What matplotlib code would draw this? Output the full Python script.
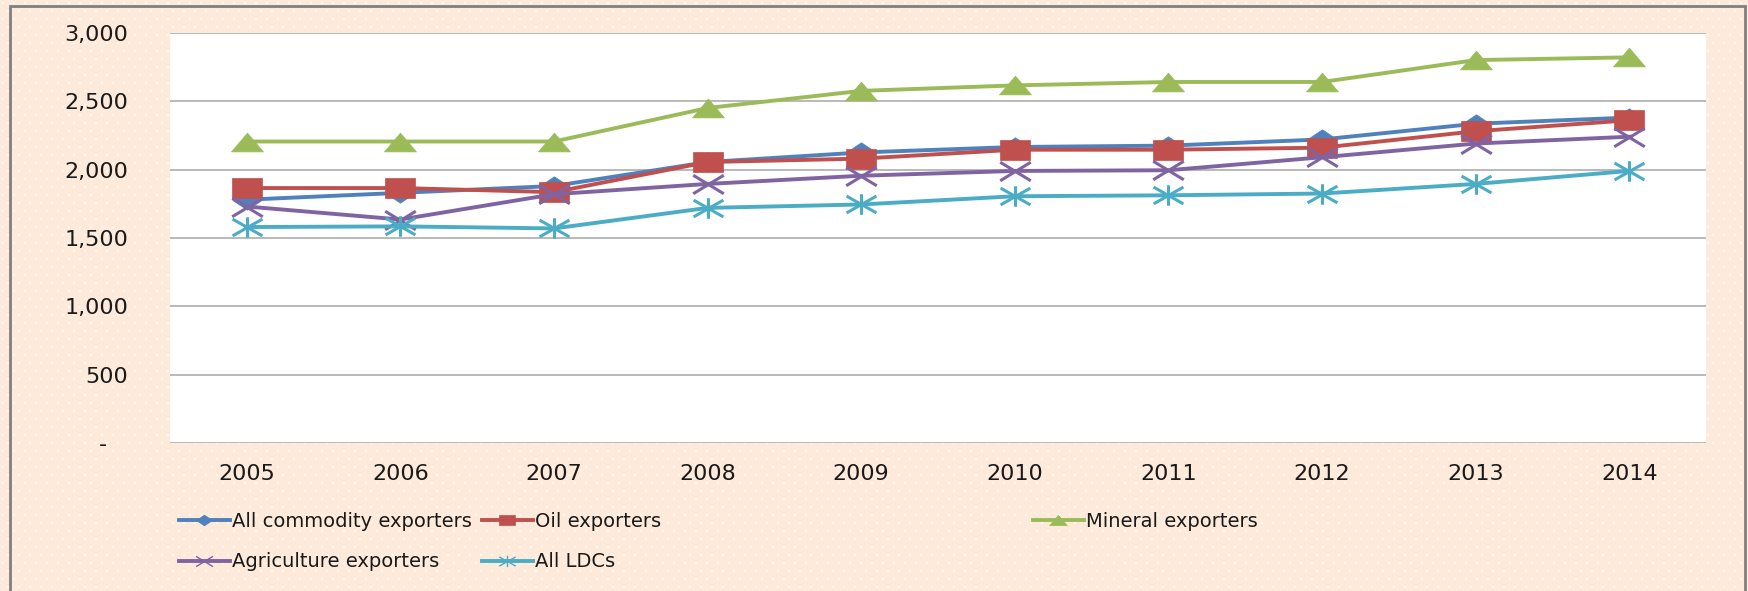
import numpy as np
import matplotlib
matplotlib.use('Agg')
import matplotlib.pyplot as plt
from matplotlib.path import Path
from matplotlib.patches import Rectangle
from matplotlib.lines import Line2D

years = ['2005', '2006', '2007', '2008', '2009', '2010', '2011', '2012', '2013', '2014']
all_commodity = [1780, 1830, 1880, 2055, 2125, 2165, 2175, 2220, 2335, 2380]
oil = [1865, 1865, 1835, 2055, 2080, 2145, 2145, 2160, 2280, 2360]
mineral = [2205, 2205, 2205, 2450, 2575, 2615, 2640, 2640, 2800, 2820]
agriculture = [1730, 1635, 1820, 1895, 1955, 1990, 1995, 2090, 2190, 2240]
all_ldcs = [1580, 1585, 1570, 1720, 1745, 1805, 1812, 1825, 1895, 1990]

W, H = 1748, 591
peach = np.array([253, 234, 218]) / 255.
dot = np.array([255, 246, 238]) / 255.

fig = plt.figure(figsize=(W / 100, H / 100), dpi=100)

# dotted peach background
bg = np.empty((H, W, 3))
bg[:] = peach
for k, j in enumerate(range(2, H, 8)):
    off = 2 + (5 if k % 2 else 0)
    bg[j:j + 2, off::11] = dot
    bg[j:j + 2, off + 1::11] = dot
fig.figimage(bg, 0, 0, zorder=-5)

# outer grey frame
fig.patches.append(Rectangle((10 / W, -0.05), (1745 - 10) / W, 1.05 - 6.5 / H,
                             transform=fig.transFigure, fill=False,
                             ec='#808080', lw=2.0, clip_on=False, zorder=-4))

# stretched marker shapes
diamond = [(0, 1), (1.5, 0), (0, -1), (-1.5, 0), (0, 1)]
square = [(-1.55, -1), (1.55, -1), (1.55, 1), (-1.55, 1), (-1.55, -1)]
triangle = [(-1.7, -1), (1.7, -1), (0, 1), (-1.7, -1)]
xmark = Path([(-1.65, -1), (1.65, 1), (-1.65, 1), (1.65, -1)],
             [Path.MOVETO, Path.LINETO, Path.MOVETO, Path.LINETO])
star = Path([(-1.6, -0.9), (1.6, 0.9), (-1.6, 0.9), (1.6, -0.9), (0, -1.1), (0, 1.1)],
            [Path.MOVETO, Path.LINETO, Path.MOVETO, Path.LINETO, Path.MOVETO, Path.LINETO])

series = [
    ('All commodity exporters', all_commodity, '#4F81BD', diamond, 21, 0),
    ('Oil exporters', oil, '#C0504D', square, 21.5, 0),
    ('Mineral exporters', mineral, '#9BBB59', triangle, 23, 0),
    ('Agriculture exporters', agriculture, '#8064A2', xmark, 22, 2.2),
    ('All LDCs', all_ldcs, '#4BACC6', star, 21.5, 2.2),
]

ax = fig.add_axes([170 / W, 1 - 443.3 / H, (1706 - 170) / W, (443.3 - 32.7) / H])
ax.set_facecolor('white')
x = np.arange(len(years))

for name, vals, col, mk, ms, mew in series:
    filled = mew == 0
    ax.plot(x, vals, color=col, lw=2.8, marker=mk, ms=ms,
            mfc=col if filled else 'none', mec=col, mew=mew if mew else 0.5,
            clip_on=False, zorder=3)

ax.set_xlim(-0.5, len(years) - 0.5)
ax.set_ylim(0, 3000)
ax.set_yticks(np.arange(0, 3001, 500))
ax.set_yticklabels(['-   ' if v == 0 else '{:,}'.format(v) for v in range(0, 3001, 500)])
ax.set_xticks(x)
ax.set_xticklabels(years)
ax.tick_params(axis='y', length=0, pad=30, labelsize=16, labelcolor='#1a1a1a')
ax.tick_params(axis='x', length=0, pad=15, labelsize=16, labelcolor='#1a1a1a')
ax.grid(axis='y', color='#A6A6A6', lw=1.1)
ax.set_axisbelow(True)
for s in ax.spines.values():
    s.set_visible(False)


def add_legend(names, xpix):
    hs = []
    for name, vals, col, mk, ms, mew in series:
        if name in names:
            filled = mew == 0
            hs.append(Line2D([], [], color=col, lw=2.8, marker=mk, ms=ms * 0.55,
                             mfc=col if filled else 'none', mec=col,
                             mew=1.0 if mew else 0.5))
    fig.legend(hs, names, loc='upper left', bbox_to_anchor=(xpix / W, 1 - 512 / H),
               bbox_transform=fig.transFigure, frameon=False, borderpad=0,
               borderaxespad=0, handlelength=2.6, handletextpad=0.15,
               labelspacing=1.1, fontsize=14, labelcolor='#1a1a1a')


add_legend(['All commodity exporters', 'Agriculture exporters'], 179)
add_legend(['Oil exporters', 'All LDCs'], 482)
add_legend(['Mineral exporters'], 1033)

fig.savefig('out.png', dpi=100)
